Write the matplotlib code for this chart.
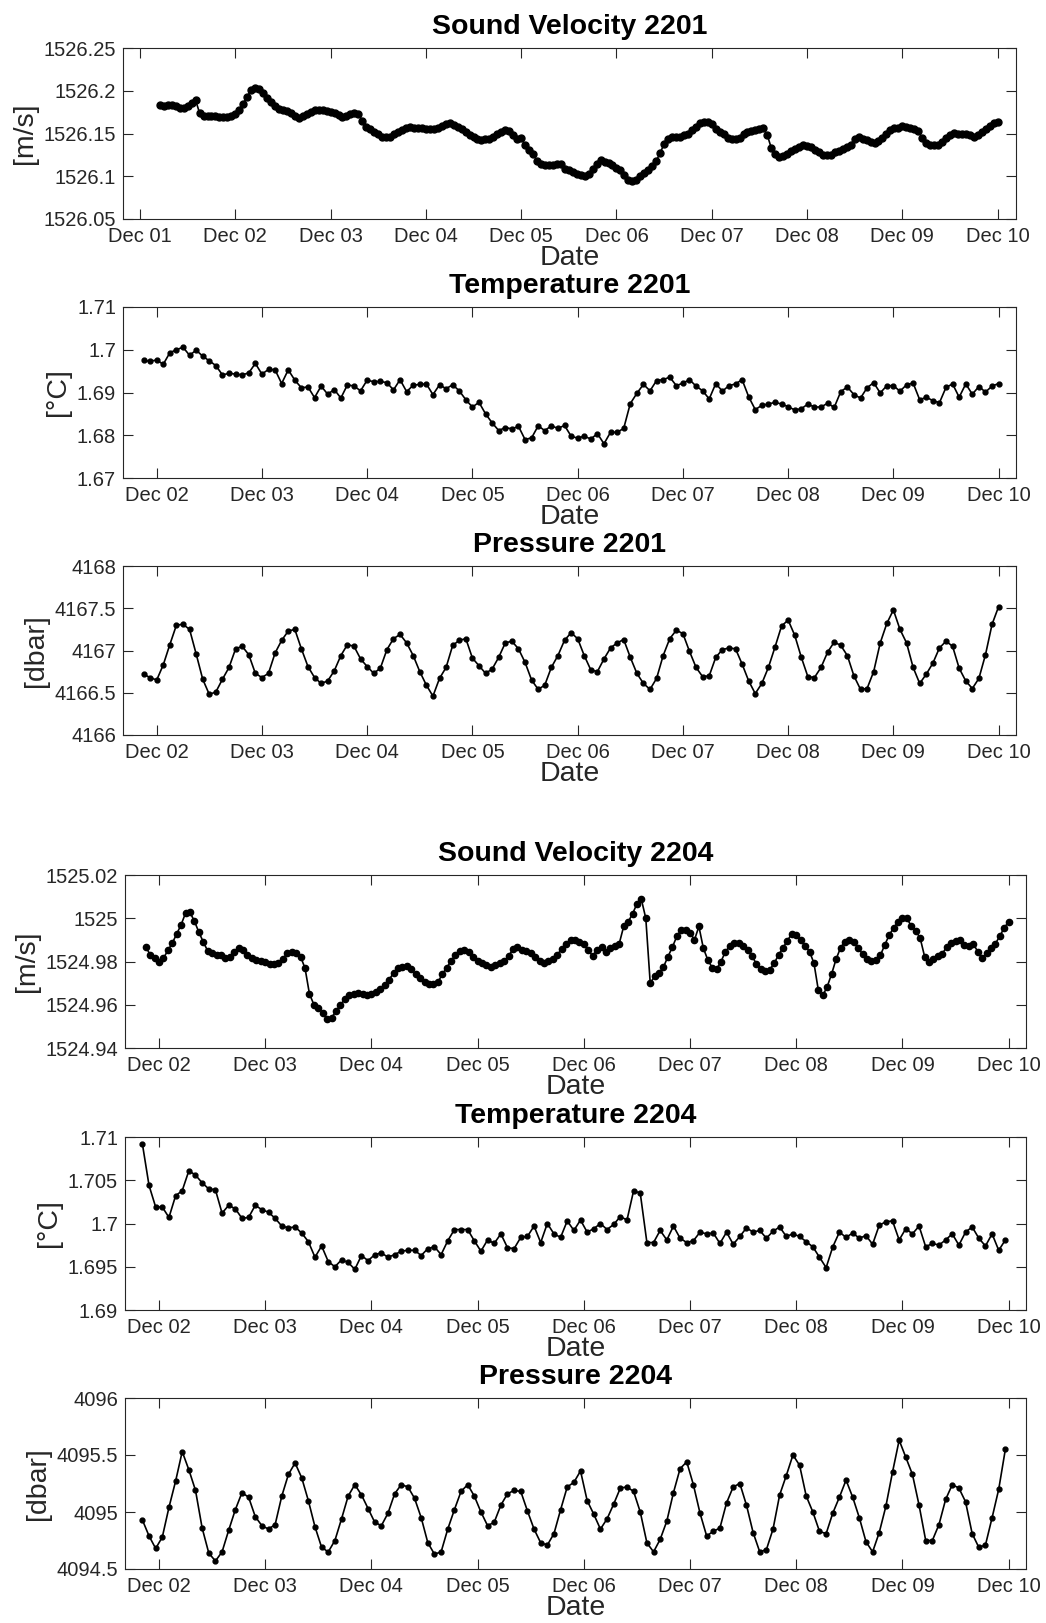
import numpy as np
import matplotlib
matplotlib.use("Agg")
import matplotlib.pyplot as plt
from matplotlib.ticker import FuncFormatter, FixedLocator

plt.rcParams['font.family'] = ['Liberation Sans', 'DejaVu Sans']

# ---------------- data (x = day of December) ----------------
# Sound velocity 2201, hourly from Dec 01 05:00
sv2201_start = 1 + 5 / 24
sv2201 = [
    1526.183, 1526.182, 1526.183, 1526.183, 1526.182, 1526.180, 1526.180, 1526.182, 1526.186, 1526.189,
    1526.174, 1526.171, 1526.171, 1526.171, 1526.170, 1526.169, 1526.169, 1526.169, 1526.171, 1526.173,
    1526.178, 1526.185, 1526.193, 1526.201, 1526.203, 1526.202, 1526.197, 1526.192, 1526.187, 1526.182,
    1526.179, 1526.177, 1526.176, 1526.174, 1526.170, 1526.168, 1526.170, 1526.173, 1526.175, 1526.178,
    1526.178, 1526.177, 1526.176, 1526.175, 1526.174, 1526.172, 1526.169, 1526.171, 1526.173, 1526.174,
    1526.173, 1526.165, 1526.158, 1526.155, 1526.152, 1526.149, 1526.146, 1526.146, 1526.146, 1526.149,
    1526.152, 1526.154, 1526.156, 1526.158, 1526.157, 1526.157, 1526.156, 1526.155, 1526.155, 1526.155,
    1526.157, 1526.159, 1526.161, 1526.162, 1526.160, 1526.158, 1526.155, 1526.152, 1526.148, 1526.146,
    1526.144, 1526.142, 1526.143, 1526.143, 1526.146, 1526.150, 1526.152, 1526.154, 1526.153, 1526.148,
    1526.143,
    1526.145, 1526.136, 1526.131, 1526.126, 1526.118, 1526.114, 1526.113, 1526.113, 1526.113, 1526.114,
    1526.114, 1526.109, 1526.107, 1526.105, 1526.103, 1526.102, 1526.100, 1526.103, 1526.108, 1526.114,
    1526.119, 1526.117, 1526.115, 1526.113, 1526.110, 1526.107, 1526.102, 1526.096, 1526.094, 1526.096,
    1526.100, 1526.104, 1526.107, 1526.112, 1526.118, 1526.127, 1526.138, 1526.144, 1526.146, 1526.146,
    1526.146, 1526.148, 1526.150, 1526.154, 1526.158, 1526.162, 1526.164, 1526.163, 1526.161, 1526.155,
    1526.152, 1526.149, 1526.145, 1526.144, 1526.143, 1526.145, 1526.149, 1526.152, 1526.153, 1526.154,
    1526.155, 1526.156, 1526.148, 1526.133, 1526.126, 1526.123, 1526.124, 1526.126, 1526.129, 1526.132,
    1526.134, 1526.136, 1526.135, 1526.134, 1526.131, 1526.128, 1526.125, 1526.125, 1526.125, 1526.128,
    1526.130, 1526.132, 1526.134, 1526.137, 1526.144, 1526.146, 1526.144, 1526.142, 1526.140, 1526.139,
    1526.141, 1526.145, 1526.150, 1526.154, 1526.156, 1526.157, 1526.159, 1526.158, 1526.157, 1526.155,
    1526.153, 1526.145, 1526.139, 1526.137, 1526.136, 1526.137, 1526.140, 1526.145, 1526.148, 1526.151,
    1526.150, 1526.150, 1526.149, 1526.148, 1526.146, 1526.148, 1526.152, 1526.155, 1526.159, 1526.162,
    1526.164,
]

# Temperature / pressure 2201, every 1.5 h from Dec 01 21:00
tp2201_start = 1 + 21 / 24
temp2201 = [
    1.6975, 1.6973, 1.6976, 1.6966, 1.6993, 1.7000, 1.7006, 1.6987, 1.6999, 1.6985,
    1.6974, 1.6963, 1.6941, 1.6945, 1.6943, 1.6941, 1.6946, 1.6968, 1.6943, 1.6954,
    1.6953, 1.6921, 1.6953, 1.6929, 1.6911, 1.6913, 1.6888, 1.6915, 1.6896, 1.6907,
    1.6887, 1.6918, 1.6915, 1.6904, 1.6929, 1.6925, 1.6926, 1.6923, 1.6906, 1.6930,
    1.6902, 1.6917, 1.6919, 1.6920, 1.6895, 1.6918, 1.6909, 1.6918, 1.6904, 1.6883,
    1.6866, 1.6877, 1.6850, 1.6829, 1.6811, 1.6818, 1.6815, 1.6821, 1.6790,
    1.6794, 1.6822, 1.6811, 1.6822, 1.6816, 1.6823, 1.6798, 1.6793, 1.6798, 1.6791,
    1.6804, 1.6780, 1.6807, 1.6807, 1.6816, 1.6874, 1.6898, 1.6919, 1.6904, 1.6928,
    1.6930, 1.6936, 1.6916, 1.6922, 1.6930, 1.6915, 1.6904, 1.6885, 1.6921, 1.6903,
    1.6916, 1.6920, 1.6930, 1.6890, 1.6860, 1.6870, 1.6873, 1.6877, 1.6873, 1.6867,
    1.6859, 1.6862, 1.6873, 1.6866, 1.6866, 1.6875, 1.6865, 1.6902, 1.6913, 1.6895,
    1.6887, 1.6911, 1.6923, 1.6899, 1.6916, 1.6916, 1.6903, 1.6918, 1.6922, 1.6883,
    1.6889, 1.6881, 1.6876, 1.6912, 1.6920, 1.6889, 1.6920, 1.6896, 1.6914, 1.6901,
    1.6915, 1.6921,
]
pres2201 = [
    4166.72, 4166.68, 4166.65, 4166.83, 4167.07, 4167.30, 4167.31, 4167.25, 4166.96, 4166.66,
    4166.48, 4166.51, 4166.66, 4166.80, 4167.02, 4167.05, 4166.95, 4166.73, 4166.68, 4166.73,
    4166.97, 4167.12, 4167.23, 4167.25, 4167.02, 4166.81, 4166.68, 4166.61, 4166.64, 4166.76,
    4166.94, 4167.07, 4167.05, 4166.90, 4166.81, 4166.73, 4166.79, 4167.01, 4167.14, 4167.19,
    4167.09, 4166.94, 4166.75, 4166.59, 4166.46, 4166.67, 4166.80, 4167.06, 4167.12, 4167.14,
    4166.91, 4166.82, 4166.73, 4166.78, 4166.92, 4167.09, 4167.11, 4167.02, 4166.86,
    4166.65, 4166.54, 4166.59, 4166.80, 4166.94, 4167.12, 4167.21, 4167.14, 4166.94, 4166.77,
    4166.75, 4166.90, 4167.03, 4167.09, 4167.13, 4166.92, 4166.73, 4166.61, 4166.54, 4166.67,
    4166.94, 4167.14, 4167.24, 4167.20, 4166.99, 4166.80, 4166.69, 4166.70, 4166.92, 4167.01,
    4167.03, 4167.02, 4166.84, 4166.64, 4166.49, 4166.61, 4166.80, 4167.04, 4167.29, 4167.36,
    4167.18, 4166.92, 4166.69, 4166.68, 4166.80, 4166.98, 4167.10, 4167.06, 4166.94, 4166.70,
    4166.54, 4166.55, 4166.75, 4167.09, 4167.32, 4167.48, 4167.25, 4167.09, 4166.80, 4166.61,
    4166.72, 4166.85, 4167.03, 4167.11, 4167.05, 4166.79, 4166.64, 4166.55, 4166.67, 4166.95,
    4167.31, 4167.52,
]

# Sound velocity 2204, hourly from Dec 01 21:00
sv2204_start = 1 + 21 / 24
sv2204 = [
    1524.9869, 1524.9831, 1524.9818, 1524.9800, 1524.9815, 1524.9851, 1524.9885, 1524.9928, 1524.9970, 1525.0024,
    1525.0027, 1524.9987, 1524.9936, 1524.9891, 1524.9849, 1524.9839, 1524.9832, 1524.9828, 1524.9818, 1524.9822,
    1524.9846, 1524.9862, 1524.9851, 1524.9831, 1524.9814, 1524.9808, 1524.9802, 1524.9797, 1524.9789, 1524.9788,
    1524.9795, 1524.9812, 1524.9840, 1524.9846, 1524.9837, 1524.9822, 1524.9769, 1524.9650, 1524.9601, 1524.9586,
    1524.9563, 1524.9532, 1524.9541, 1524.9570, 1524.9600, 1524.9626, 1524.9646, 1524.9650, 1524.9654, 1524.9650,
    1524.9647, 1524.9649, 1524.9660, 1524.9674, 1524.9692, 1524.9715, 1524.9748, 1524.9769, 1524.9775, 1524.9777,
    1524.9765, 1524.9740, 1524.9723, 1524.9703, 1524.9694, 1524.9694, 1524.9703, 1524.9741, 1524.9771, 1524.9803,
    1524.9831, 1524.9848, 1524.9855, 1524.9842, 1524.9820, 1524.9803, 1524.9791, 1524.9783, 1524.9774, 1524.9783,
    1524.9791, 1524.9802, 1524.9826, 1524.9857, 1524.9865, 1524.9855,
    1524.9848, 1524.9839, 1524.9823, 1524.9803, 1524.9795, 1524.9803, 1524.9812, 1524.9831, 1524.9859, 1524.9882,
    1524.9899, 1524.9900, 1524.9891, 1524.9882, 1524.9851, 1524.9826, 1524.9854, 1524.9866, 1524.9845, 1524.9862,
    1524.9871, 1524.9883, 1524.9962, 1524.9983, 1525.0020, 1525.0067, 1525.0087, 1525.0000, 1524.9700, 1524.9731,
    1524.9745, 1524.9775, 1524.9822, 1524.9866, 1524.9916, 1524.9946, 1524.9946, 1524.9933, 1524.9900, 1524.9962,
    1524.9862, 1524.9808, 1524.9772, 1524.9765, 1524.9800, 1524.9846, 1524.9872, 1524.9885, 1524.9885, 1524.9871,
    1524.9852, 1524.9826, 1524.9788, 1524.9766, 1524.9757, 1524.9763, 1524.9791, 1524.9831, 1524.9863, 1524.9897,
    1524.9928, 1524.9923, 1524.9899, 1524.9871, 1524.9846, 1524.9792, 1524.9666, 1524.9643, 1524.9684, 1524.9743,
    1524.9811, 1524.9863, 1524.9892, 1524.9900, 1524.9888, 1524.9862, 1524.9834, 1524.9811, 1524.9803, 1524.9809,
    1524.9828, 1524.9877, 1524.9922, 1524.9956, 1524.9983, 1525.0002, 1525.0000, 1524.9963, 1524.9942, 1524.9908,
    1524.9823, 1524.9800, 1524.9811, 1524.9825, 1524.9835, 1524.9869, 1524.9885, 1524.9897, 1524.9900, 1524.9876,
    1524.9871, 1524.9882, 1524.9846, 1524.9815, 1524.9837, 1524.9863, 1524.9883, 1524.9917, 1524.9957, 1524.9983,
]

# Temperature / pressure 2204, every 1.5 h from Dec 01 20:15
tp2204_start = 1 + 20.25 / 24
temp2204 = [
    1.7092, 1.7044, 1.7019, 1.7019, 1.7007, 1.7032, 1.7038, 1.7061, 1.7056, 1.7047,
    1.7040, 1.7039, 1.7012, 1.7021, 1.7017, 1.7006, 1.7007, 1.7021, 1.7016, 1.7013,
    1.7006, 1.6997, 1.6995, 1.6996, 1.6989, 1.6979, 1.6961, 1.6974, 1.6956, 1.6950,
    1.6958, 1.6955, 1.6947, 1.6963, 1.6957, 1.6964, 1.6966, 1.6961, 1.6964, 1.6968,
    1.6969, 1.6969, 1.6963, 1.6971, 1.6973, 1.6964, 1.6980, 1.6993, 1.6993, 1.6993,
    1.6980, 1.6968, 1.6981, 1.6977, 1.6988, 1.6972, 1.6971, 1.6984, 1.6985,
    1.6997, 1.6978, 1.7000, 1.6988, 1.6984, 1.7003, 1.6992, 1.7004, 1.6990, 1.6994,
    1.7000, 1.6993, 1.6999, 1.7008, 1.7004, 1.7038, 1.7035, 1.6978, 1.6978, 1.6992,
    1.6981, 1.6997, 1.6983, 1.6978, 1.6980, 1.6990, 1.6988, 1.6989, 1.6977, 1.6990,
    1.6976, 1.6985, 1.6995, 1.6990, 1.6992, 1.6983, 1.6991, 1.6996, 1.6985, 1.6988,
    1.6985, 1.6979, 1.6973, 1.6961, 1.6949, 1.6973, 1.6990, 1.6984, 1.6989, 1.6983,
    1.6986, 1.6976, 1.6998, 1.7002, 1.7003, 1.6981, 1.6994, 1.6988, 1.6997, 1.6973,
    1.6977, 1.6975, 1.6981, 1.6988, 1.6975, 1.6990, 1.6996, 1.6983, 1.6974, 1.6988,
    1.6969, 1.6981,
]
pres2204 = [
    4094.93, 4094.79, 4094.68, 4094.78, 4095.04, 4095.27, 4095.53, 4095.37, 4095.19, 4094.86,
    4094.64, 4094.57, 4094.65, 4094.84, 4095.02, 4095.17, 4095.13, 4094.96, 4094.88, 4094.85,
    4094.89, 4095.14, 4095.33, 4095.43, 4095.30, 4095.10, 4094.87, 4094.69, 4094.65, 4094.75,
    4094.94, 4095.14, 4095.24, 4095.15, 4095.03, 4094.91, 4094.88, 4094.99, 4095.16, 4095.24,
    4095.22, 4095.12, 4094.95, 4094.73, 4094.63, 4094.65, 4094.85, 4095.02, 4095.18, 4095.24,
    4095.14, 4095.00, 4094.88, 4094.91, 4095.06, 4095.16, 4095.19, 4095.18, 4095.01,
    4094.85, 4094.73, 4094.71, 4094.81, 4095.02, 4095.22, 4095.26, 4095.36, 4095.10, 4094.98,
    4094.85, 4094.94, 4095.07, 4095.21, 4095.22, 4095.18, 4095.00, 4094.73, 4094.65, 4094.76,
    4094.92, 4095.17, 4095.38, 4095.44, 4095.24, 4094.99, 4094.79, 4094.83, 4094.86, 4095.08,
    4095.22, 4095.25, 4095.06, 4094.82, 4094.65, 4094.67, 4094.85, 4095.15, 4095.32, 4095.50,
    4095.41, 4095.14, 4095.00, 4094.83, 4094.81, 4094.99, 4095.13, 4095.28, 4095.13, 4094.95,
    4094.74, 4094.65, 4094.82, 4095.05, 4095.35, 4095.63, 4095.48, 4095.33, 4095.06, 4094.75,
    4094.75, 4094.89, 4095.11, 4095.24, 4095.21, 4095.09, 4094.81, 4094.69, 4094.71, 4094.95,
    4095.20, 4095.55,
]

def times(start, step_hours, n):
    return start + np.arange(n) * step_hours / 24.0

panels = [
    # title, ylabel, x, y, yticks, xlim, xticks, box (l, r, t, b in px), marker size
    ("Sound Velocity 2201", "[m/s]", times(sv2201_start, 1, len(sv2201)), sv2201,
     [1526.05, 1526.1, 1526.15, 1526.2, 1526.25], (0.8215, 10.193), range(1, 11),
     (123, 1016, 48, 219), 5.0),
    ("Temperature 2201", "[°C]", times(tp2201_start, 1.5, len(temp2201)), temp2201,
     [1.67, 1.68, 1.69, 1.70, 1.71], (1.68, 10.165), range(2, 11),
     (123, 1016, 307, 478), 3.5),
    ("Pressure 2201", "[dbar]", times(tp2201_start, 1.5, len(pres2201)), pres2201,
     [4166, 4166.5, 4167, 4167.5, 4168], (1.68, 10.165), range(2, 11),
     (123, 1016, 566, 735), 3.5),
    ("Sound Velocity 2204", "[m/s]", times(sv2204_start, 1, len(sv2204)), sv2204,
     [1524.94, 1524.96, 1524.98, 1525.0, 1525.02], (1.68, 10.163), range(2, 11),
     (125, 1026, 875, 1048), 4.5),
    ("Temperature 2204", "[°C]", times(tp2204_start, 1.5, len(temp2204)), temp2204,
     [1.69, 1.695, 1.70, 1.705, 1.71], (1.68, 10.163), range(2, 11),
     (125, 1026, 1137, 1310), 3.5),
    ("Pressure 2204", "[dbar]", times(tp2204_start, 1.5, len(pres2204)), pres2204,
     [4094.5, 4095, 4095.5, 4096], (1.68, 10.163), range(2, 11),
     (125, 1026, 1398, 1569), 3.5),
]

W, H = 1046, 1623
fig = plt.figure(figsize=(W / 100, H / 100), dpi=100)
grey = '#262626'

for title, ylab, x, y, yt, xl, xt, box, ms in panels:
    l, r, t, b = box
    ax = fig.add_axes([l / W, 1 - b / H, (r - l) / W, (b - t) / H])
    ax.plot(x, y, '-', color='black', lw=1.2, marker='o', ms=ms,
            markerfacecolor='black', markeredgecolor='black')
    ax.set_xlim(*xl)
    ax.set_ylim(yt[0], yt[-1])
    ax.xaxis.set_major_locator(FixedLocator(list(xt)))
    ax.xaxis.set_major_formatter(FuncFormatter(lambda v, p: "Dec %02d" % int(round(v))))
    ax.yaxis.set_major_locator(FixedLocator(yt))
    ax.yaxis.set_major_formatter(FuncFormatter(lambda v, p: "{:.6g}".format(v)))
    ax.tick_params(direction='in', length=7, width=0.8, colors=grey, labelsize=14.5,
                   top=True, right=True)
    ax.tick_params(axis='x', pad=6)
    ax.tick_params(axis='y', pad=5)
    for s in ax.spines.values():
        s.set_color(grey)
        s.set_linewidth(0.8)
    ax.set_title(title, fontsize=20.5, fontweight='bold', pad=10)
    ax.set_xlabel("Date", fontsize=20.5, color=grey, labelpad=-1)
    ax.set_ylabel(ylab, fontsize=20.5, color=grey, labelpad=4)

fig.savefig("out.png", dpi=100)
